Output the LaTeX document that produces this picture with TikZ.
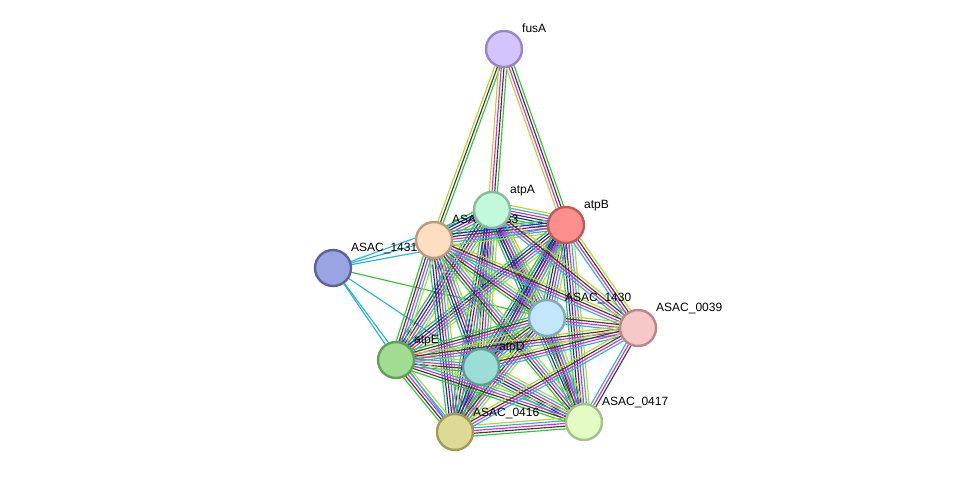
\documentclass[tikz,border=0pt]{standalone}
\usepackage{fontspec}
\setmainfont{Liberation Sans}
\usetikzlibrary{calc}

\definecolor{ngreen}{RGB}{50,196,50}
\definecolor{cblue}{RGB}{30,30,235}
\definecolor{coexp}{RGB}{60,60,60}
\definecolor{exper}{RGB}{218,40,218}
\definecolor{dbase}{RGB}{40,180,215}
\definecolor{tmine}{RGB}{188,210,45}
\definecolor{homol}{RGB}{160,160,245}

% node fill / border colours
\definecolor{fusAf}{RGB}{212,196,252}  \definecolor{fusAd}{RGB}{152,132,200}
\definecolor{atpAf}{RGB}{194,249,218}  \definecolor{atpAd}{RGB}{134,190,156}
\definecolor{atpBf}{RGB}{252,142,142}  \definecolor{atpBd}{RGB}{192,90,90}
\definecolor{s1433f}{RGB}{253,222,192} \definecolor{s1433d}{RGB}{187,154,126}
\definecolor{s1431f}{RGB}{154,164,224} \definecolor{s1431d}{RGB}{90,99,160}
\definecolor{s1430f}{RGB}{194,230,250} \definecolor{s1430d}{RGB}{128,168,190}
\definecolor{s0039f}{RGB}{248,200,200} \definecolor{s0039d}{RGB}{186,136,136}
\definecolor{atpEf}{RGB}{160,220,146}  \definecolor{atpEd}{RGB}{98,160,88}
\definecolor{atpDf}{RGB}{156,222,214}  \definecolor{atpDd}{RGB}{94,158,152}
\definecolor{s0416f}{RGB}{222,218,150} \definecolor{s0416d}{RGB}{160,156,88}
\definecolor{s0417f}{RGB}{226,252,196} \definecolor{s0417d}{RGB}{164,192,140}

\pgfdeclarelayer{edges}
\pgfdeclarelayer{labels}
\pgfsetlayers{edges,labels,main}

\tikzset{
  prot/.style={circle, draw=#1d, fill=#1f, line width=2.4pt,
    minimum size=36pt, inner sep=0pt},
  lbl/.style={anchor=base west, inner sep=0pt, font=\fontsize{12}{14}\selectfont}
}

% one bundle of parallel coloured lines between two proteins
\newcommand\bundle[3]{%
  \edef\clist{#3}%
  \foreach \c [count=\i] in \clist {\xdef\nlines{\i}}%
  \foreach \c [count=\i] in \clist {
    \pgfmathsetmacro\off{(\i-(\nlines+1)/2)*2.7}
    \draw[\c, line width=1.15pt] ($(#1)!\off pt!90:(#2)$) -- ($(#2)!\off pt!-90:(#1)$);
  }}

\def\full{ngreen,cblue,coexp,exper,dbase,tmine}
\def\nob{ngreen,coexp,exper,dbase,tmine}
\def\zset{tmine,coexp,exper,dbase}

\begin{document}
\begin{tikzpicture}[x=1pt,y=-1pt]
  \useasboundingbox (0,0) rectangle (975,478);

  % proteins
  \node[prot=fusA]  (fusA)  at (504,49)  {};
  \node[prot=atpA]  (atpA)  at (492,210) {};
  \node[prot=atpB]  (atpB)  at (566,225) {};
  \node[prot=s1433] (s1433) at (434,240) {};
  \node[prot=s1431] (s1431) at (333,268) {};
  \node[prot=s1430] (s1430) at (547,318) {};
  \node[prot=s0039] (s0039) at (638,328) {};
  \node[prot=atpE]  (atpE)  at (396,360) {};
  \node[prot=atpD]  (atpD)  at (481,367) {};
  \node[prot=s0416] (s0416) at (455,432) {};
  \node[prot=s0417] (s0417) at (584,422) {};

  % names
  \begin{pgfonlayer}{labels}
    \node[lbl] (lfusA)  at ($(fusA)+(18,-16)$)  {fusA};
    \node[lbl] (latpA)  at ($(atpA)+(18,-16)$)  {atpA};
    \node[lbl] (latpB)  at ($(atpB)+(18,-16)$)  {atpB};
    \node[lbl] (l1433)  at ($(s1433)+(18,-16)$) {ASAC\_1433};
    \node[lbl] (l1431)  at ($(s1431)+(18,-16)$) {ASAC\_1431};
    \node[lbl] (l1430)  at ($(s1430)+(18,-16)$) {ASAC\_1430};
    \node[lbl] (l0039)  at ($(s0039)+(18,-16)$) {ASAC\_0039};
    \node[lbl] (latpE)  at ($(atpE)+(18,-16)$)  {atpE};
    \node[lbl] (latpD)  at ($(atpD)+(18,-16)$)  {atpD};
    \node[lbl] (l0416)  at ($(s0416)+(18,-16)$) {ASAC\_0416};
    \node[lbl] (l0417)  at ($(s0417)+(18,-16)$) {ASAC\_0417};
  \end{pgfonlayer}

  % interactions
  \begin{pgfonlayer}{edges}
    \bundle{fusA}{s1433}{tmine,coexp,ngreen}
    \bundle{fusA}{atpA}{tmine,exper,coexp,ngreen}
    \bundle{fusA}{atpB}{tmine,exper,coexp,ngreen}
    \foreach \b in {s1433,atpA,atpB,atpE,s0416,atpD}
      {\bundle{s1431}{\b}{dbase}}
    \bundle{s1431}{s1430}{ngreen}
    \bundle{atpA}{atpB}{homol,ngreen,cblue,coexp,exper,dbase,tmine}
    \foreach \a/\b in {atpA/s1433, atpA/s1430, atpA/atpE, atpA/atpD, atpA/s0416, atpA/s0417,
                       atpB/s1433, atpB/s1430, atpB/atpE, atpB/atpD, atpB/s0416, atpB/s0417,
                       s1433/atpD, s1433/s0416, atpD/s0416, atpD/s0417}
      {\bundle{\a}{\b}{\full}}
    \foreach \a/\b in {s1433/s1430, s1433/atpE, s1433/s0417, s1430/atpE, s1430/atpD,
                       s1430/s0416, s1430/s0417, atpE/atpD, atpE/s0416, atpE/s0417, s0416/s0417}
      {\bundle{\a}{\b}{\nob}}
    \foreach \b in {atpA,atpB,s1433,s1430,atpE,atpD,s0416}
      {\bundle{s0039}{\b}{\zset}}
    \bundle{s0039}{s0417}{dbase,exper,coexp}
  \end{pgfonlayer}
\end{tikzpicture}
\end{document}
